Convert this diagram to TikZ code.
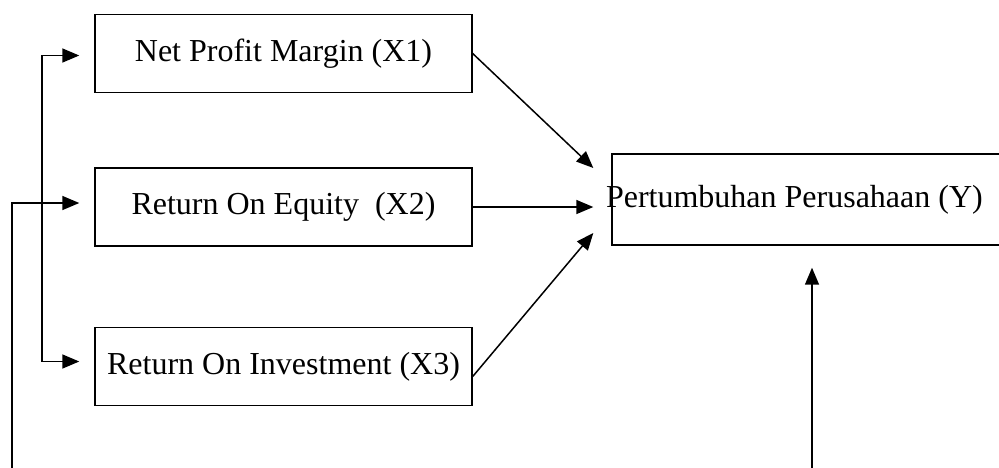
\documentclass[tikz,border=0pt]{standalone}
\usepackage{fontspec}
\setmainfont{Liberation Serif}
\usetikzlibrary{
    arrows.meta,
    calc,
    positioning
}

\tikzset{
    box/.style={draw, line width=0.7pt, minimum width=188.5pt, minimum height=39pt, inner sep=0pt},
    link/.style={-{Triangle[length=8.5pt, width=7pt]}, line width=0.75pt}
}

\begin{document}
\begin{tikzpicture}[x=0.5pt, y=-0.5pt, font=\fontsize{16}{19}\selectfont]
                        \useasboundingbox (0, 0) rectangle (999, 467);
                        \clip (0, 0) rectangle (999, 467);

                        \node[box] (npm) at (283.5, 53.5) {Net Profit Margin (X1)};
                        \node[box] (roe) at (283.5, 207) {Return On Equity~ (X2)};
                        \node[box] (roi) at (283.5, 366.5) {Return On Investment (X3)};
                        \node[box, minimum height=45.5pt, text width=202.5pt, inner xsep=-3pt, align=flush left] (growth) at (808.5, 199.5) {Pertumbuhan Perusahaan (Y)};

                        \coordinate (in1) at ($(growth.west) + (-18, -31.5)$);
                        \coordinate (in2) at ($(growth.west |- roe.east) + (-18, 0)$);
                        \coordinate (in3) at ($(growth.west) + (-18, 33.5)$);
                        \coordinate (feed) at (12, 480);
                        \coordinate (split) at (42, 207);
                        \coordinate (base) at (812, 480);

                        \draw
                        (npm.east) edge[link] (in1)
                        (roe.east) edge[link] (in2)
                        ($(roi.east) + (0, 10)$) edge[link] (in3);
                        \draw[link, shorten >=11pt] (base) -- (base |- growth.south);
                        \draw[link] (feed) |- ($(roe.west) + (-15, -4)$);
                        \draw[link] (split) |- ($(npm.west) + (-15, 2)$);
                        \draw[link] (split) |- ($(roi.west) + (-15, -5)$);
                    \end{tikzpicture}
\end{document}
